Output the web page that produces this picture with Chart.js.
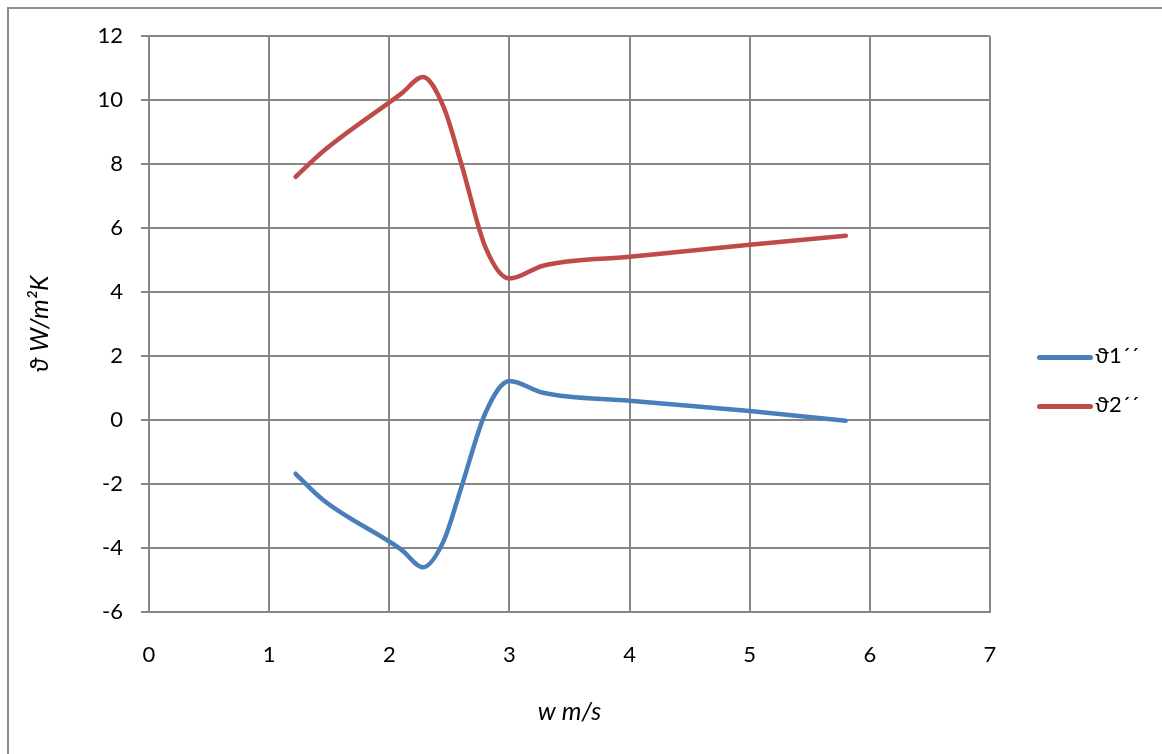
<!DOCTYPE html>
<html><head><meta charset="utf-8">
<script src="https://cdn.jsdelivr.net/npm/chart.js@4"></script>
<style>
html,body{margin:0;padding:0;background:#fff;}
#wrap{position:absolute;left:0;top:0;width:1162px;height:754px;}
#frame{position:absolute;left:7px;top:7px;width:1200px;height:800px;border-left:2px solid #8c8c8c;border-top:2px solid #8c8c8c;}
#legend{position:absolute;left:1037px;top:340px;font-family:Lato,"Noto Sans",sans-serif;font-size:22px;color:#000;}
.item{position:relative;height:49px;}
.sw{position:absolute;left:0;top:15px;width:56px;height:5px;border-radius:3px;}
.lb{position:absolute;left:58px;top:1px;white-space:nowrap;}
</style></head>
<body>
<div id="wrap"><canvas id="c" width="1162" height="754"></canvas></div>
<div id="frame"></div>
<div id="legend"></div>
<script>
const xValues = [1.22, 1.45, 2.1, 2.28, 2.45, 2.6, 2.8, 3.0, 3.28, 4.0, 5.0, 5.8];
const theta1 = [-1.68, -2.5, -4.05, -4.6, -3.8, -2.1, 0.22, 1.22, 0.85, 0.6, 0.28, -0.02];
const theta2 = [7.6, 8.4, 10.2, 10.72, 9.8, 8.0, 5.4, 4.42, 4.82, 5.1, 5.48, 5.76];
const seriesNames = ["ϑ1´´", "ϑ2´´"];
const seriesColors = ["#4A7EBB", "#BE4B48"];
const xTitle = "w m/s";
const yTitle = "ϑ W/m²K";

const mk = (arr) => xValues.map((x, i) => ({x: x, y: arr[i]}));
const font = {family: "Lato, 'Noto Sans', sans-serif", size: 22};
const tfont = {family: "Lato, 'Noto Sans', sans-serif", size: 25, style: 'italic'};

new Chart(document.getElementById('c'), {
  type: 'line',
  data: {
    datasets: [
      {label: seriesNames[0], data: mk(theta1), borderColor: seriesColors[0], borderWidth: 4.5, pointRadius: 0, cubicInterpolationMode: 'monotone', fill: false, borderCapStyle: 'round', borderJoinStyle: 'round'},
      {label: seriesNames[1], data: mk(theta2), borderColor: seriesColors[1], borderWidth: 4.5, pointRadius: 0, cubicInterpolationMode: 'monotone', fill: false, borderCapStyle: 'round', borderJoinStyle: 'round'}
    ]
  },
  options: {
    responsive: false,
    animation: false,
    devicePixelRatio: 1,
    layout: {padding: {left: 0, top: 36, right: 172, bottom: 0}},
    plugins: {legend: {display: false}, tooltip: {enabled: false}},
    scales: {
      x: {
        type: 'linear', min: 0, max: 7,
        ticks: {stepSize: 1, color: '#000', font: font, padding: 30},
        grid: {color: '#878787', lineWidth: 2, drawTicks: false},
        border: {color: '#878787', width: 2},
        title: {display: true, text: xTitle, color: '#000', font: tfont, padding: {top: 27, bottom: 27}},
        afterFit: (s) => { s.height = 142; }
      },
      y: {
        type: 'linear', min: -6, max: 12,
        ticks: {stepSize: 2, color: '#000', font: font, padding: 18},
        grid: {color: '#878787', lineWidth: 2, tickLength: 8},
        border: {color: '#878787', width: 2},
        title: {display: true, text: yTitle, color: '#000', font: tfont, padding: {top: 25, bottom: 25}},
        afterFit: (s) => { s.width = 149; }
      }
    }
  }
});

const lg = document.getElementById('legend');
seriesNames.forEach((n, i) => {
  const d = document.createElement('div'); d.className = 'item';
  d.innerHTML = '<div class="sw" style="background:' + seriesColors[i] + '"></div><div class="lb">' + n + '</div>';
  lg.appendChild(d);
});
</script>
</body></html>
